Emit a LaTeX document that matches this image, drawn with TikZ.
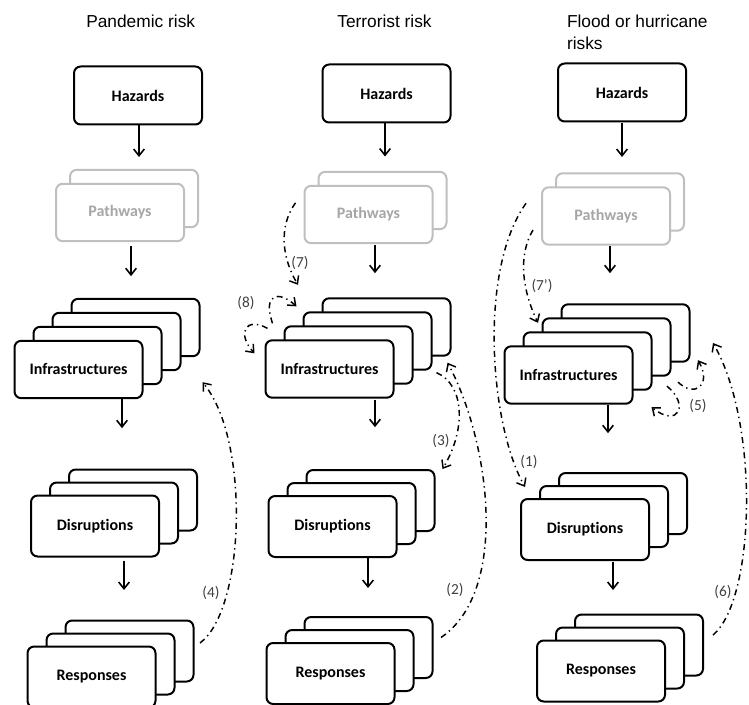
\documentclass[tikz,border=0pt]{standalone}
\usepackage{fontspec}
\setmainfont{Carlito}[Ligatures=NoCommon]
\newfontfamily\headfont{Liberation Sans}
\usetikzlibrary{arrows.meta}
\newcommand{\boxfont}{\fontsize{12pt}{14pt}\selectfont\bfseries}
\newcommand{\tagfont}{\fontsize{11.5pt}{13pt}\selectfont}
\newcommand{\headsize}{\fontsize{13pt}{16.5pt}\selectfont}
\definecolor{pathgray}{RGB}{191,191,191}
\definecolor{tagcol}{RGB}{64,64,64}

\begin{document}
\begin{tikzpicture}[x=0.75pt,y=-0.75pt,
  every node/.style={inner sep=0pt,outer sep=0pt},
  riskbox/.style={draw,line width=1.5pt,rounded corners=5pt,fill=white,
    minimum width=96pt,minimum height=43pt,font=\boxfont},
  tallbox/.style={riskbox,minimum height=45.75pt},
  pathbox/.style={riskbox,draw=pathgray,text=black!35},
  flow/.style={line width=1.2pt,-{Straight Barb[length=5pt,width=8pt]}},
  feedback/.style={line width=1.1pt,dash pattern=on 4.5pt off 3pt on 1pt off 3pt,
    -{Straight Barb[length=5pt,width=8pt]}},
  numtag/.style={font=\tagfont,text=tagcol},
  colhead/.style={font=\headfont\headsize}]
  % canvas in px of the source (y runs down)
  \path[use as bounding box] (0,0) rectangle (749,705);
  % ---- column heads ----
  \node[colhead,anchor=base] (head1) at (140.7,28) {Pandemic risk};
  \node[colhead,anchor=base] (head2) at (384.5,28) {Terrorist risk};
  \node[colhead,anchor=north west,align=left] (head3) at (567,15.4) {Flood or hurricane\\risks};
  % ---- hazards ----
  \foreach \c/\x/\y in {1/138/95.5,2/386.5/93.5,3/622/92.5}
    \node[riskbox,minimum height=43.5pt] (haz\c) at (\x,\y) {Hazards};
  % ---- pathways: back sheet, then front ----
  \foreach \c/\x/\y in {1/120/212.5,2/368.5/214.5,3/606/216}{
    \node[pathbox] (path\c-1) at (\x+14,\y-14) {};
    \node[pathbox] (path\c) at (\x,\y) {Pathways};
  }
  % ---- infrastructures: four sheets ----
  \foreach \c/\x/\y in {1/78.5/369.5,2/329.5/369,3/568.5/375}{
    \foreach \k in {3,2,1}
      \node[riskbox] (inf\c-\k) at (\x+19*\k,\y-14*\k) {};
    \node[riskbox] (inf\c) at (\x,\y) {Infrastructures};
  }
  % ---- disruptions / responses: three sheets ----
  \foreach \c/\x/\y in {1/95/526,2/332.5/526.5,3/585/529.5}{
    \foreach \k in {2,1}
      \node[tallbox] (dis\c-\k) at (\x+19*\k,\y-13*\k) {};
    \node[tallbox] (dis\c) at (\x,\y) {Disruptions};
  }
  \foreach \c/\x/\y in {1/91.5/677,2/330.5/673.5,3/601/671}{
    \foreach \k in {2,1}
      \node[tallbox] (res\c-\k) at (\x+19*\k,\y-13*\k) {};
    \node[tallbox] (res\c) at (\x,\y) {Responses};
  }
  % ---- chain arrows ----
  \draw[flow] ([shift={(1,0.5)}]haz1.south) -- ++(0,32);
  \draw[flow] ([shift={(11,5)}]path1.south) -- ++(0,30);
  \draw[flow] ([shift={(43.5,1)}]inf1.south) -- ++(0,29);
  \draw[flow] ([shift={(29,4)}]dis1.south) -- ++(0,29.5);
  \draw[flow] ([shift={(-1.5,1)}]haz2.south) -- ++(0,33);
  \draw[flow] ([shift={(6.5,2)}]path2.south) -- ++(0,28);
  \draw[flow] ([shift={(45.5,2)}]inf2.south) -- ++(0,27.5);
  \draw[flow] ([shift={(35.5,1)}]dis2.south) -- ++(0,30);
  \draw[flow] ([shift={(0,1.5)}]haz3.south) -- ++(0,34);
  \draw[flow] ([shift={(4,1)}]path3.south) -- ++(0,27.5);
  \draw[flow] ([shift={(39.5,1.5)}]inf3.south) -- ++(0,28);
  \draw[flow] ([shift={(28,2)}]dis3.south) -- ++(0,28);
  % ---- feedback loops ----
  % (4) responses -> infrastructures
  \draw[feedback] ([shift={(6.5,-8)}]res1-2.east) .. controls +(45,-33) and +(48,58) .. ([shift={(3,26)}]inf1-3.south east);
  % (2) responses -> infrastructures, (3) infrastructures -> disruptions
  \draw[feedback] ([shift={(8.5,-10)}]res2-2.east) .. controls +(69,-47) and +(42,78) .. ([shift={(-3,7)}]inf2-3.south east);
  \draw[feedback] ([shift={(5,3)}]inf2-2.south east) .. controls +(28,12) and +(24,-40) .. ([shift={(8,-1)}]dis2-2.north east);
  % (7) pathways -> infrastructures, (8) infrastructures -> infrastructures
  \draw[feedback] ([shift={(-9,17)}]path2.north west) .. controls +(-18,25) and +(-15,-25) .. ([shift={(-24.5,-13.5)}]inf2-3.north west);
  \draw[feedback] ([shift={(-12,-3)}]inf2-1.north west) .. controls +(-10,-30) and +(-18,-16) .. ([shift={(-7,-6)}]inf2-2.north west);
  \draw[feedback] ([shift={(-17,2)}]inf2-1.north west) .. controls +(-22,-12) and +(-18,-20) .. ([shift={(-11,13)}]inf2.north west);
  % (1) pathways -> disruptions, (7') pathways -> infrastructures
  \draw[feedback] ([shift={(-16,16)}]path3.north west) .. controls +(-48,67) and +(-35,-62) .. ([shift={(4,-12)}]dis3.north west);
  \draw[feedback] ([shift={(-9,14)}]path3.west) .. controls +(-15,25) and +(-16,-33) .. ([shift={(-4.5,4.5)}]inf3-2.north west);
  % (5) infrastructures -> infrastructures
  \draw[feedback] ([shift={(7.5,6.5)}]inf3-2.south east) .. controls +(17,16) and +(14,25) .. ([shift={(8.5,-1.5)}]inf3-3.south east);
  \draw[feedback] ([shift={(-3.5,10.5)}]inf3-2.south east) .. controls +(23,19) and +(26.5,21) .. ([shift={(0,17.5)}]inf3-1.south east);
  % (6) responses -> infrastructures
  \draw[feedback] ([shift={(10,-10)}]res3-2.east) .. controls +(42,-35) and +(47,82) .. ([shift={(23.5,10)}]inf3-3.east);
  % ---- loop numbers ----
  \node[numtag] (tag1) at (529,462) {(1)};
  \node[numtag] (tag2) at (455,590) {(2)};
  \node[numtag] (tag3) at (441,441) {(3)};
  \node[numtag] (tag4) at (211,593) {(4)};
  \node[numtag] (tag5) at (698,406) {(5)};
  \node[numtag] (tag6) at (723,592) {(6)};
  \node[numtag] (tag7) at (300,263) {(7)};
  \node[numtag] (tag7b) at (542,286) {(7’)};
  \node[numtag] (tag8) at (246,303) {(8)};
\end{tikzpicture}
\end{document}
